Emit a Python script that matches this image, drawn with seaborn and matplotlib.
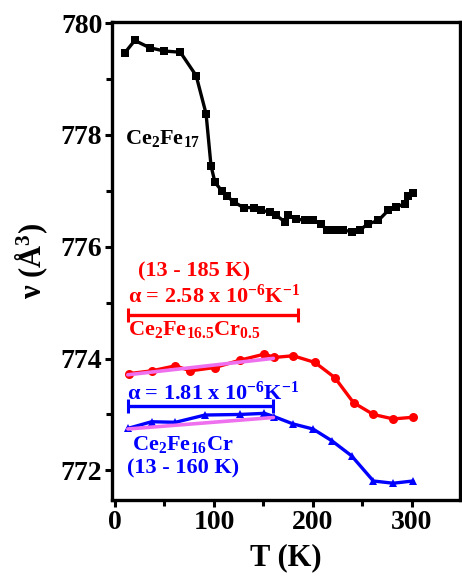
import numpy as np
import pandas as pd
import matplotlib
matplotlib.use("Agg")
import matplotlib.pyplot as plt
import seaborn as sns
from matplotlib.ticker import MultipleLocator

sns.set_theme(style="ticks", rc={
    "axes.edgecolor": "black",
    "axes.labelcolor": "black",
    "text.color": "black",
    "xtick.color": "black",
    "ytick.color": "black",
})
plt.rcParams["font.family"] = ["Liberation Serif", "DejaVu Serif"]
plt.rcParams["font.weight"] = "bold"
plt.rcParams["mathtext.fontset"] = "custom"
plt.rcParams["mathtext.rm"] = "Liberation Serif:bold"
plt.rcParams["mathtext.bf"] = "Liberation Serif:bold"
plt.rcParams["mathtext.it"] = "Liberation Serif:bold:italic"
plt.rcParams["mathtext.default"] = "rm"

# Unit-cell volume vs temperature
t_fe17 = [10, 20, 35, 50, 66, 82, 92, 97, 101, 108, 113, 120, 130, 140, 148, 157,
          163, 172, 175, 183, 192, 200, 208, 214, 222, 230, 239, 247, 256, 266,
          276, 284, 293, 296, 301]
v_fe17 = [779.47, 779.69, 779.56, 779.50, 779.48, 779.06, 778.38, 777.45, 777.15,
          777.00, 776.91, 776.80, 776.70, 776.70, 776.65, 776.62, 776.56, 776.44,
          776.56, 776.50, 776.47, 776.47, 776.41, 776.30, 776.30, 776.30, 776.27,
          776.30, 776.41, 776.47, 776.65, 776.71, 776.77, 776.91, 776.97]

t_cr05 = [14, 37, 61, 76, 101, 126, 151, 161, 180, 202, 222, 241, 261, 281, 301]
v_cr05 = [773.73, 773.78, 773.87, 773.78, 773.84, 773.97, 774.08, 774.02, 774.05,
          773.93, 773.66, 773.21, 773.00, 772.92, 772.95]

t_cr1 = [13, 37, 61, 91, 126, 151, 161, 180, 200, 219, 239, 261, 281, 301]
v_cr1 = [772.75, 772.87, 772.86, 772.99, 773.00, 773.02, 772.96, 772.83, 772.74,
         772.53, 772.26, 771.81, 771.77, 771.81]

# Linear fits: volume expansion coefficient alpha over the fitting range
alpha_cr05 = 2.58e-6
range_cr05 = [13, 185]
v0_cr05 = 773.71
alpha_cr1 = 1.81e-6
range_cr1 = [13, 160]
v0_cr1 = 772.74
fit_end = 160

df_fe17 = pd.DataFrame({"T": t_fe17, "V": v_fe17})
df_cr05 = pd.DataFrame({"T": t_cr05, "V": v_cr05})
df_cr1 = pd.DataFrame({"T": t_cr1, "V": v_cr1})

W, H = 462, 579
fig = plt.figure(figsize=(W / 100, H / 100), dpi=100)
ax = fig.add_axes([112 / W, 1 - 500 / H, (460 - 112) / W, (500 - 22) / H])

lw = 2.4
sns.lineplot(data=df_fe17, x="T", y="V", ax=ax, color="black", marker="s",
             markersize=5.5, markeredgewidth=0, linewidth=lw)
sns.lineplot(data=df_cr05, x="T", y="V", ax=ax, color="#ff0000", marker="o",
             markersize=6.5, markeredgewidth=0, linewidth=lw)
sns.lineplot(data=df_cr1, x="T", y="V", ax=ax, color="#0000ff", marker="^",
             markersize=6, markeredgewidth=0, linewidth=lw)

pink = "#ee70ee"
for t0, v0, a in [(range_cr05[0], v0_cr05, alpha_cr05), (range_cr1[0], v0_cr1, alpha_cr1)]:
    tt = np.array([t0, fit_end])
    vv = v0 * (1 + a * (tt - t0))
    ax.plot(tt, vv, color=pink, linewidth=2.6, zorder=5)

# Fitting-range brackets
for rng, yb, col in [(range_cr05, 774.78, "#ff0000"), (range_cr1, 773.15, "#0000ff")]:
    mid = (rng[0] + rng[1]) / 2
    ax.errorbar([mid], [yb], xerr=[(rng[1] - rng[0]) / 2], color=col, capsize=5,
                capthick=2.2, elinewidth=2.4, fmt="none")

fs = 16
ax.text(10, 777.83, r"Ce$_2$Fe$_{17}$", color="black", fontsize=fs, fontweight="bold")
ax.text(23, 775.47, "(13 - 185 K)", color="#ff0000", fontsize=fs, fontweight="bold")
ax.text(13, 775.0, r"α = 2.58 x 10$^{-6}$K$^{-1}$", color="#ff0000", fontsize=fs,
        fontweight="bold")
ax.text(13, 774.42, r"Ce$_2$Fe$_{16.5}$Cr$_{0.5}$", color="#ff0000", fontsize=fs,
        fontweight="bold")
ax.text(12, 773.26, r"α = 1.81 x 10$^{-6}$K$^{-1}$", color="#0000ff", fontsize=fs,
        fontweight="bold")
ax.text(17, 772.37, r"Ce$_2$Fe$_{16}$Cr", color="#0000ff", fontsize=fs,
        fontweight="bold")
ax.text(12, 771.94, "(13 - 160 K)", color="#0000ff", fontsize=fs, fontweight="bold")

ax.set_xlim(-3, 348.5)
ax.set_ylim(771.47, 780.02)
ax.xaxis.set_major_locator(MultipleLocator(100))
ax.xaxis.set_minor_locator(MultipleLocator(50))
ax.yaxis.set_major_locator(MultipleLocator(2))
ax.yaxis.set_minor_locator(MultipleLocator(1))
ax.tick_params(which="both", direction="out", width=2.2, labelsize=20, pad=2,
               color="black", labelcolor="black")
ax.tick_params(which="major", length=5)
ax.tick_params(which="minor", length=4)
for lab in ax.get_xticklabels() + ax.get_yticklabels():
    lab.set_fontweight("bold")
for sp in ax.spines.values():
    sp.set_linewidth(2.4)
    sp.set_color("black")
    sp.set_visible(True)

ax.set_xlabel("T (K)", fontsize=22, fontweight="bold", labelpad=6)
ax.set_ylabel(r"ν (Å$^3$)", fontsize=22, fontweight="bold", labelpad=8)

fig.savefig("out.png", dpi=100)
